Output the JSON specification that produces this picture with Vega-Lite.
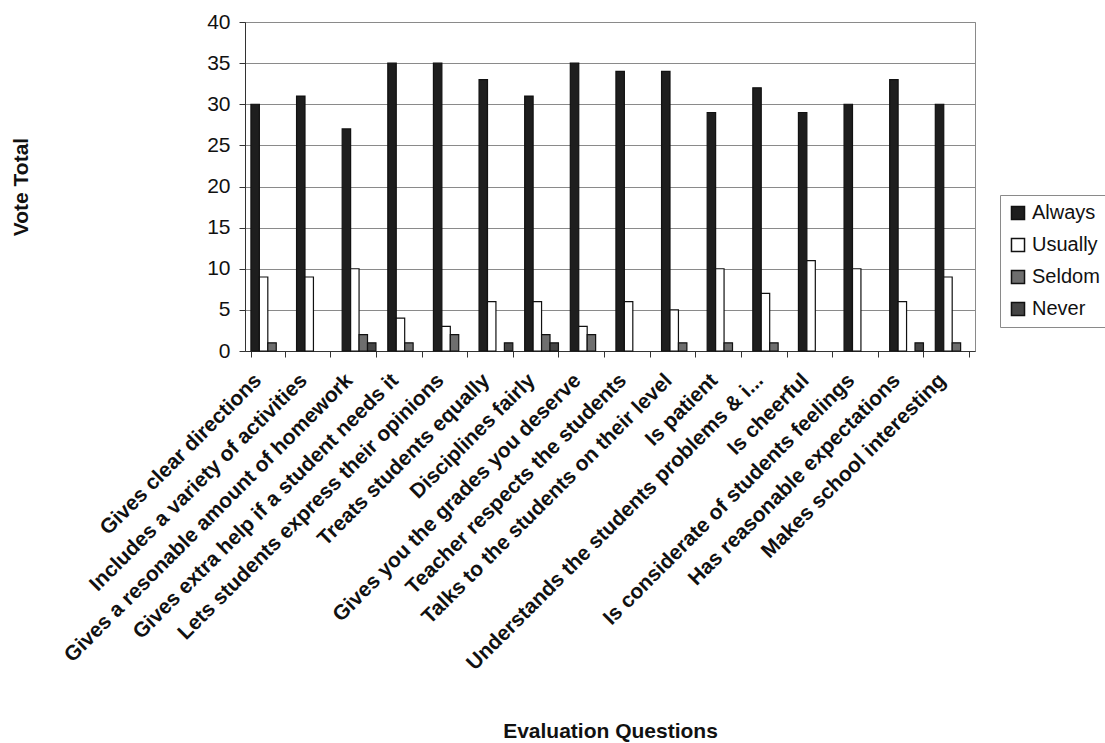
{
  "$schema": "https://vega.github.io/schema/vega-lite/v6.json",
  "autosize": "none",
  "width": 730,
  "height": 329,
  "padding": {"left": 245, "top": 22, "right": 130, "bottom": 392},
  "background": "white",
  "config": {
    "font": "Liberation Sans",
    "view": {"stroke": "#8a8a8a", "strokeWidth": 1}
  },
  "data": {
    "values": [
      {"q": "Gives clear directions", "s": "Always", "v": 30},
      {"q": "Gives clear directions", "s": "Usually", "v": 9},
      {"q": "Gives clear directions", "s": "Seldom", "v": 1},
      {"q": "Gives clear directions", "s": "Never", "v": 0},
      {"q": "Includes a variety of activities", "s": "Always", "v": 31},
      {"q": "Includes a variety of activities", "s": "Usually", "v": 9},
      {"q": "Includes a variety of activities", "s": "Seldom", "v": 0},
      {"q": "Includes a variety of activities", "s": "Never", "v": 0},
      {"q": "Gives a resonable amount of homework", "s": "Always", "v": 27},
      {"q": "Gives a resonable amount of homework", "s": "Usually", "v": 10},
      {"q": "Gives a resonable amount of homework", "s": "Seldom", "v": 2},
      {"q": "Gives a resonable amount of homework", "s": "Never", "v": 1},
      {"q": "Gives extra help if a student needs it", "s": "Always", "v": 35},
      {"q": "Gives extra help if a student needs it", "s": "Usually", "v": 4},
      {"q": "Gives extra help if a student needs it", "s": "Seldom", "v": 1},
      {"q": "Gives extra help if a student needs it", "s": "Never", "v": 0},
      {"q": "Lets students express their opinions", "s": "Always", "v": 35},
      {"q": "Lets students express their opinions", "s": "Usually", "v": 3},
      {"q": "Lets students express their opinions", "s": "Seldom", "v": 2},
      {"q": "Lets students express their opinions", "s": "Never", "v": 0},
      {"q": "Treats students equally", "s": "Always", "v": 33},
      {"q": "Treats students equally", "s": "Usually", "v": 6},
      {"q": "Treats students equally", "s": "Seldom", "v": 0},
      {"q": "Treats students equally", "s": "Never", "v": 1},
      {"q": "Disciplines fairly", "s": "Always", "v": 31},
      {"q": "Disciplines fairly", "s": "Usually", "v": 6},
      {"q": "Disciplines fairly", "s": "Seldom", "v": 2},
      {"q": "Disciplines fairly", "s": "Never", "v": 1},
      {"q": "Gives you the grades you deserve", "s": "Always", "v": 35},
      {"q": "Gives you the grades you deserve", "s": "Usually", "v": 3},
      {"q": "Gives you the grades you deserve", "s": "Seldom", "v": 2},
      {"q": "Gives you the grades you deserve", "s": "Never", "v": 0},
      {"q": "Teacher respects the students", "s": "Always", "v": 34},
      {"q": "Teacher respects the students", "s": "Usually", "v": 6},
      {"q": "Teacher respects the students", "s": "Seldom", "v": 0},
      {"q": "Teacher respects the students", "s": "Never", "v": 0},
      {"q": "Talks to the students on their level", "s": "Always", "v": 34},
      {"q": "Talks to the students on their level", "s": "Usually", "v": 5},
      {"q": "Talks to the students on their level", "s": "Seldom", "v": 1},
      {"q": "Talks to the students on their level", "s": "Never", "v": 0},
      {"q": "Is patient", "s": "Always", "v": 29},
      {"q": "Is patient", "s": "Usually", "v": 10},
      {"q": "Is patient", "s": "Seldom", "v": 1},
      {"q": "Is patient", "s": "Never", "v": 0},
      {"q": "Understands the students problems & i...", "s": "Always", "v": 32},
      {"q": "Understands the students problems & i...", "s": "Usually", "v": 7},
      {"q": "Understands the students problems & i...", "s": "Seldom", "v": 1},
      {"q": "Understands the students problems & i...", "s": "Never", "v": 0},
      {"q": "Is cheerful", "s": "Always", "v": 29},
      {"q": "Is cheerful", "s": "Usually", "v": 11},
      {"q": "Is cheerful", "s": "Seldom", "v": 0},
      {"q": "Is cheerful", "s": "Never", "v": 0},
      {"q": "Is considerate of students feelings", "s": "Always", "v": 30},
      {"q": "Is considerate of students feelings", "s": "Usually", "v": 10},
      {"q": "Is considerate of students feelings", "s": "Seldom", "v": 0},
      {"q": "Is considerate of students feelings", "s": "Never", "v": 0},
      {"q": "Has reasonable expectations", "s": "Always", "v": 33},
      {"q": "Has reasonable expectations", "s": "Usually", "v": 6},
      {"q": "Has reasonable expectations", "s": "Seldom", "v": 0},
      {"q": "Has reasonable expectations", "s": "Never", "v": 1},
      {"q": "Makes school interesting", "s": "Always", "v": 30},
      {"q": "Makes school interesting", "s": "Usually", "v": 9},
      {"q": "Makes school interesting", "s": "Seldom", "v": 1},
      {"q": "Makes school interesting", "s": "Never", "v": 0}
    ]
  },
  "transform": [{"filter": "datum.v > 0"}],
  "mark": {"type": "bar", "stroke": "#111111", "strokeWidth": 1.2},
  "encoding": {
    "x": {
      "field": "q",
      "type": "nominal",
      "sort": null,
      "scale": {"paddingInner": 0.26, "paddingOuter": 0.13},
      "axis": {
        "title": "Evaluation Questions",
        "titleFontSize": 21,
        "titleFontWeight": "bold",
        "titleColor": "#111111",
        "titleBaseline": "middle",
        "titleY": 380,
        "labelAngle": -45,
        "labelAlign": "right",
        "labelBaseline": "middle",
        "labelFontSize": 21,
        "labelFontWeight": "bold",
        "labelColor": "#111111",
        "labelLimit": 700,
        "labelPadding": 20,
        "labelOffset": -10,
        "tickBand": "extent",
        "tickSize": 6,
        "tickColor": "#333333",
        "domainColor": "#333333",
        "grid": false
      }
    },
    "xOffset": {
      "field": "s",
      "type": "nominal",
      "scale": {"domain": ["Always", "Usually", "Seldom", "Never"], "paddingInner": 0, "paddingOuter": 0}
    },
    "y": {
      "field": "v",
      "type": "quantitative",
      "scale": {"domain": [0, 40]},
      "axis": {
        "title": "Vote Total",
        "titleFontSize": 21,
        "titleFontWeight": "bold",
        "titleColor": "#111111",
        "titleX": -224,
        "titleBaseline": "middle",
        "values": [0, 5, 10, 15, 20, 25, 30, 35, 40],
        "labelFontSize": 21,
        "labelColor": "#111111",
        "labelPadding": 9,
        "tickSize": 6,
        "tickColor": "#333333",
        "domainColor": "#333333",
        "gridColor": "#8a8a8a",
        "gridWidth": 1.2
      }
    },
    "color": {
      "field": "s",
      "type": "nominal",
      "scale": {
        "domain": ["Always", "Usually", "Seldom", "Never"],
        "range": ["#1e1e1e", "#ffffff", "#6e6e6e", "#454545"]
      },
      "legend": {
        "title": null,
        "orient": "none",
        "legendX": 755,
        "legendY": 173,
        "symbolType": "square",
        "symbolSize": 170,
        "symbolStrokeColor": "#111111",
        "symbolStrokeWidth": 1.5,
        "labelFontSize": 20,
        "labelColor": "#111111",
        "labelOffset": 4,
        "rowPadding": 12,
        "padding": 8,
        "strokeColor": "#8a8a8a",
        "fillColor": "white"
      }
    }
  }
}
